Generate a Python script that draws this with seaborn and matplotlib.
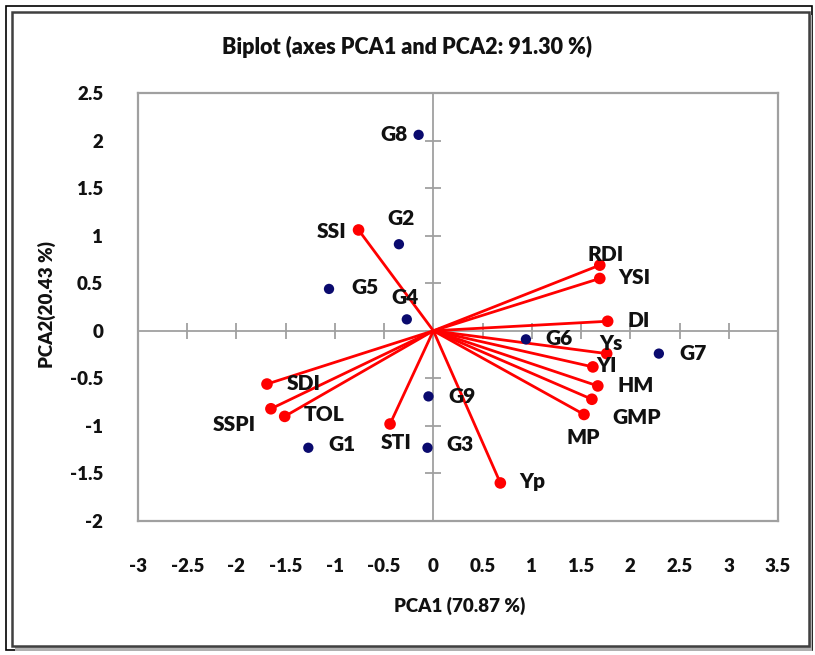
import matplotlib
matplotlib.use("Agg")
import matplotlib.pyplot as plt
import matplotlib.patches as mpatches
import seaborn as sns
import pandas as pd

# ---------------- data ----------------
genotypes = ["G1", "G2", "G3", "G4", "G5", "G6", "G7", "G8", "G9"]
geno_pc1 = [-1.27, -0.35, -0.06, -0.27, -1.06, 0.94, 2.29, -0.15, -0.05]
geno_pc2 = [-1.23, 0.91, -1.23, 0.12, 0.44, -0.09, -0.24, 2.06, -0.69]

indices = ["SSI", "RDI", "YSI", "DI", "Ys", "YI", "HM", "GMP", "MP", "Yp",
           "SDI", "SSPI", "TOL", "STI"]
ind_pc1 = [-0.76, 1.69, 1.69, 1.77, 1.76, 1.62, 1.67, 1.61, 1.53, 0.68,
           -1.69, -1.65, -1.51, -0.44]
ind_pc2 = [1.06, 0.69, 0.55, 0.10, -0.24, -0.38, -0.58, -0.72, -0.88, -1.60,
           -0.56, -0.82, -0.90, -0.98]

x_ticks = [-3, -2.5, -2, -1.5, -1, -0.5, 0, 0.5, 1, 1.5, 2, 2.5, 3, 3.5]
y_ticks = [-2, -1.5, -1, -0.5, 0, 0.5, 1, 1.5, 2, 2.5]

title = "Biplot (axes PCA1 and PCA2: 91.30 %)"
xlabel = "PCA1 (70.87 %)"
ylabel = "PCA2(20.43 %)"

# label offsets in pixels (style only)
geno_off = {"G1": (34, 3), "G2": (2, 26), "G3": (33, 3), "G4": (-2, 22),
            "G5": (36, 1), "G6": (33, 1), "G7": (34, 0), "G8": (-25, 0),
            "G9": (34, 0)}
ind_off = {"SSI": (-27, -2), "RDI": (6, 11), "YSI": (35, 1), "DI": (31, 1),
           "Ys": (4, 10), "YI": (14, 1), "HM": (38, 0), "GMP": (45, -18),
           "MP": (-1, -23), "Yp": (32, 1), "SDI": (37, 1), "SSPI": (-37, -16),
           "TOL": (39, 2), "STI": (6, -19)}

# ---------------- style ----------------
sns.set_theme(style="white")
plt.rcParams["font.family"] = ["Lato", "DejaVu Sans"]
plt.rcParams["font.weight"] = "bold"
TXT = "#111111"
FW = "heavy"

W, H = 815, 655
fig = plt.figure(figsize=(W / 100, H / 100), dpi=100)
fig.patch.set_facecolor("white")

# frame with shadow
fig.patches.append(mpatches.Rectangle((6 / W, 1 - 650 / H), 806 / W, 644 / H,
                                      transform=fig.transFigure, fill=False,
                                      edgecolor="black", lw=1.2, zorder=-3))
fig.patches.append(mpatches.Rectangle((15 / W, 1 - 651 / H), 797 / W, 636 / H,
                                      transform=fig.transFigure, facecolor="#b0b0b0",
                                      edgecolor="none", zorder=-2))
fig.patches.append(mpatches.Rectangle((12 / W, 1 - 646 / H), 797 / W, 634 / H,
                                      transform=fig.transFigure, facecolor="white",
                                      edgecolor="#404040", lw=1.8, zorder=-1))

L, R, T, B = 138, 778, 93, 521
rect = [L / W, 1 - B / H, (R - L) / W, (B - T) / H]

# centre axes with crossing ticks (drawn underneath)
ax2 = fig.add_axes(rect)
ax2.set_zorder(1)
ax2.set_facecolor("none")
ax2.set_xlim(-3, 3.5)
ax2.set_ylim(-2, 2.5)
ax2.set_xticks(x_ticks)
ax2.set_yticks(y_ticks)
ax2.spines["left"].set_position(("data", 0))
ax2.spines["bottom"].set_position(("data", 0))
ax2.spines["top"].set_visible(False)
ax2.spines["right"].set_visible(False)
for s in ("left", "bottom"):
    ax2.spines[s].set_color("#a0a0a0")
    ax2.spines[s].set_linewidth(1.3)
ax2.tick_params(axis="both", which="major", direction="inout", length=11,
                width=1.3, color="#a0a0a0", bottom=True, left=True,
                labelbottom=False, labelleft=False)

ax = fig.add_axes(rect, sharex=ax2, sharey=ax2)
ax.set_zorder(2)
ax.set_facecolor("none")
ax.tick_params(axis="x", bottom=True, length=0, pad=27, colors=TXT)
ax.tick_params(axis="y", left=True, length=0, pad=25, colors=TXT)
ax.set_xticks(x_ticks)
ax.set_yticks(y_ticks)
ax.set_xticklabels([f"{v:g}" for v in x_ticks], fontsize=13.5, fontweight=FW)
ax.set_yticklabels([f"{v:g}" for v in y_ticks], fontsize=13.5, fontweight=FW)
for s in ax.spines.values():
    s.set_color("#a0a0a0")
    s.set_linewidth(1.6)

# vectors
red = "#ff0000"
for x, y in zip(ind_pc1, ind_pc2):
    ax.plot([0, x], [0, y], color=red, lw=2.0, solid_capstyle="round", zorder=2)
df_ind = pd.DataFrame({"pc1": ind_pc1, "pc2": ind_pc2, "name": indices})
sns.scatterplot(data=df_ind, x="pc1", y="pc2", ax=ax, color=red, s=70,
                edgecolor="none", zorder=3, legend=False)

df_gen = pd.DataFrame({"pc1": geno_pc1, "pc2": geno_pc2, "name": genotypes})
sns.scatterplot(data=df_gen, x="pc1", y="pc2", ax=ax, color="#0a0a6e", s=55,
                edgecolor="none", zorder=3, legend=False)
ax.set_xlabel("")
ax.set_ylabel("")
ax.set_xlim(-3, 3.5)
ax.set_ylim(-2, 2.5)

for n, x, y in zip(genotypes, geno_pc1, geno_pc2):
    ax.annotate(n, (x, y), xytext=geno_off[n], textcoords="offset pixels",
                ha="center", va="center", fontsize=15, fontweight=FW,
                color=TXT, zorder=4)
for n, x, y in zip(indices, ind_pc1, ind_pc2):
    ax.annotate(n, (x, y), xytext=ind_off[n], textcoords="offset pixels",
                ha="center", va="center", fontsize=15, fontweight=FW,
                color=TXT, zorder=4)

fig.text(407 / W, 1 - 47 / H, title, ha="center", va="center", fontsize=15.5,
         fontweight=FW, color=TXT)
fig.text(460 / W, 1 - 606 / H, xlabel, ha="center", va="center", fontsize=13.5,
         fontweight=FW, color=TXT)
fig.text(47 / W, 1 - 305 / H, ylabel, ha="center", va="center", fontsize=13.5,
         fontweight=FW, color=TXT, rotation=90)

fig.savefig("out.png", dpi=100, facecolor="white")
